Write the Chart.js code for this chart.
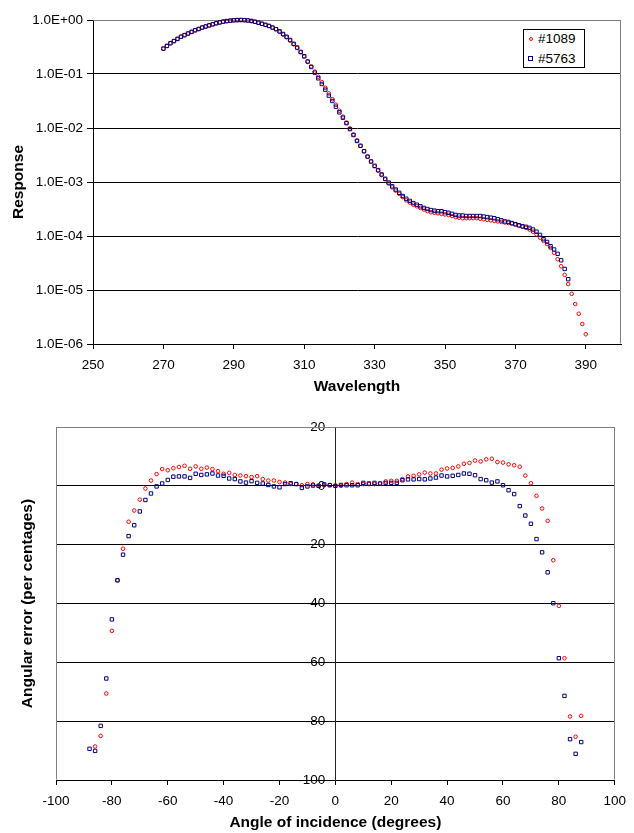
<!DOCTYPE html>
<html>
<head>
<meta charset="utf-8">
<script src="https://cdn.jsdelivr.net/npm/chart.js@4.4.1/dist/chart.umd.min.js"></script>
<style>
  body { margin: 0; background: #fff; width: 634px; height: 833px; position: relative; overflow: hidden;
         font-family: 'Liberation Sans', Arial, sans-serif; }
  #topChart { position: absolute; left: 0; top: 0; }
  #bottomChart { position: absolute; left: 0; top: 400px; }
  .legend { position: absolute; left: 523px; top: 29px; width: 60px; height: 37px;
            border: 1px solid #000; background: #fff; font-size: 13.5px; color: #000; }
  .legend .txt { position: absolute; left: 14px; height: 16px; line-height: 16px; }
  .mk { position: absolute; box-sizing: border-box; }
  .mk.red { width: 4px; height: 4px; border: 1px solid #ff0000; border-radius: 50%; }
  .mk.blue { width: 5px; height: 5px; border: 1px solid #000080; }
</style>
</head>
<body>
<canvas id="topChart" width="634" height="400"></canvas>
<canvas id="bottomChart" width="634" height="433"></canvas>
<div class="legend">
  <span class="mk red" style="left:5px; top:7px;"></span><span class="txt" style="top:1px;">#1089</span>
  <span class="mk blue" style="left:4px; top:26px;"></span><span class="txt" style="top:21px;">#5763</span>
</div>
<script>
// ---- top chart: spectral response (log10 of response) ----
const wavelengths = [
  270,271,272,273,274,275,276,277,278,279,
  280,281,282,283,284,285,286,287,288,289,
  290,291,292,293,294,295,296,297,298,299,
  300,301,302,303,304,305,306,307,308,309,
  310,311,312,313,314,315,316,317,318,319,
  320,321,322,323,324,325,326,327,328,329,
  330,331,332,333,334,335,336,337,338,339,
  340,341,342,343,344,345,346,347,348,349,
  350,351,352,353,354,355,356,357,358,359,
  360,361,362,363,364,365,366,367,368,369,
  370,371,372,373,374,375,376,377,378,379,
  380,381,382,383,384,385,386,387,388,389,
  390
];
const logResp1089 = [
  -0.53,-0.48,-0.43,-0.39,-0.35,-0.31,-0.28,-0.25,-0.22,-0.19,
  -0.167,-0.14,-0.12,-0.10,-0.08,-0.06,-0.045,-0.03,-0.02,-0.012,
  -0.006,-0.002,0,-0.003,-0.008,-0.018,-0.032,-0.05,-0.07,-0.09,
  -0.11,-0.14,-0.17,-0.22,-0.27,-0.32,-0.38,-0.45,-0.52,-0.60,
  -0.68,-0.77,-0.86,-0.955,-1.05,-1.15,-1.255,-1.36,-1.465,-1.57,
  -1.68,-1.79,-1.90,-2.01,-2.12,-2.23,-2.33,-2.43,-2.53,-2.62,
  -2.71,-2.79,-2.87,-2.95,-3.03,-3.10,-3.16,-3.22,-3.28,-3.34,
  -3.38,-3.42,-3.45,-3.48,-3.51,-3.54,-3.56,-3.57,-3.58,-3.59,
  -3.60,-3.61,-3.63,-3.65,-3.66,-3.67,-3.67,-3.67,-3.67,-3.67,
  -3.68,-3.69,-3.70,-3.71,-3.72,-3.73,-3.74,-3.75,-3.76,-3.77,
  -3.79,-3.81,-3.83,-3.85,-3.88,-3.92,-3.97,-4.03,-4.09,-4.15,
  -4.22,-4.31,-4.43,-4.56,-4.72,-4.89,-5.07,-5.26,-5.44,-5.63,
  -5.82
];
const logResp5763 = [
  -0.53,-0.48,-0.43,-0.39,-0.35,-0.31,-0.28,-0.25,-0.22,-0.19,
  -0.167,-0.14,-0.12,-0.10,-0.08,-0.06,-0.045,-0.03,-0.02,-0.012,
  -0.006,-0.002,0,-0.003,-0.008,-0.018,-0.032,-0.05,-0.07,-0.09,
  -0.11,-0.14,-0.17,-0.21,-0.26,-0.31,-0.37,-0.44,-0.51,-0.59,
  -0.67,-0.77,-0.87,-0.975,-1.08,-1.185,-1.29,-1.40,-1.50,-1.605,
  -1.71,-1.81,-1.91,-2.02,-2.13,-2.24,-2.33,-2.43,-2.53,-2.62,
  -2.70,-2.78,-2.86,-2.94,-3.01,-3.08,-3.14,-3.20,-3.26,-3.31,
  -3.35,-3.39,-3.42,-3.45,-3.48,-3.50,-3.52,-3.53,-3.54,-3.54,
  -3.56,-3.57,-3.59,-3.61,-3.62,-3.62,-3.63,-3.63,-3.63,-3.63,
  -3.63,-3.64,-3.65,-3.66,-3.67,-3.69,-3.71,-3.73,-3.74,-3.76,
  -3.78,-3.80,-3.82,-3.83,-3.85,-3.88,-3.92,-3.98,-4.06,-4.11,
  -4.19,-4.25,-4.33,-4.45,-4.61,-4.80
];
const wlTicks = [250, 270, 290, 310, 330, 350, 370, 390];
const respTicks = [1e-6, 1e-5, 1e-4, 1e-3, 1e-2, 1e-1, 1];
const respTickLabels = ['1.0E-06', '1.0E-05', '1.0E-04', '1.0E-03', '1.0E-02', '1.0E-01', '1.0E+00'];

// ---- bottom chart: angular error ----
const angles = [
  -88,-86,-84,-82,-80,-78,-76,-74,-72,-70,-68,-66,-64,-62,-60,-58,-56,-54,-52,-50,
  -48,-46,-44,-42,-40,-38,-36,-34,-32,-30,-28,-26,-24,-22,-20,-18,-16,-14,-12,-10,
  -8,-6,-4,-2,0,2,4,6,8,10,12,14,16,18,20,22,24,26,28,30,
  32,34,36,38,40,42,44,46,48,50,52,54,56,58,60,62,64,66,68,70,
  72,74,76,78,80,82,84,86,88
];
const err1089 = [
  null,-88.6,-85.0,-70.6,-49.3,-32.1,-21.4,-12.2,-8.4,-4.7,-0.9,1.8,4.0,5.7,5.3,6.0,6.4,6.8,5.8,6.6,
  5.8,6.2,5.7,5.0,4.1,4.4,3.7,3.5,3.3,3.0,3.3,2.3,1.8,1.8,1.3,1.1,0.6,0.6,0.2,0.6,
  0.5,0,0.2,0.3,0,0,0.6,1.1,0.6,0.6,0.6,0.6,0.8,1.5,1.7,1.7,2.3,3.2,3.4,3.9,
  4.5,4.2,4.2,5.5,5.9,6.1,6.6,7.5,7.8,8.6,8.3,9.0,9.2,8.1,7.9,7.3,7.0,6.5,3.5,0.9,
  -3.4,-7.7,-11.9,-25.3,-40.8,-58.6,-78.4,-85.3,-78.2
];
const err5763 = [
  -89.4,-90.1,-81.6,-65.5,-45.4,-32.1,-23.4,-17.1,-13.4,-8.7,-4.8,-2.6,-0.2,0.8,2.0,3.1,3.2,3.2,2.7,4.1,
  3.7,3.9,4.2,3.5,3.4,2.5,2.3,1.5,1.1,1.6,1.0,0.8,0.3,-0.2,-0.5,0.6,0.9,0.6,-0.7,-0.2,
  0.1,0,0.5,0.2,0,0.3,0.2,0.2,0.2,1.0,0.8,1.0,0.8,1.0,1.0,1.0,1.9,2.2,2.2,2.3,
  2.2,2.5,2.8,3.5,3.2,3.4,3.7,4.2,4.1,3.6,2.3,1.9,1.1,1.5,0.2,-1.5,-2.8,-6.9,-10.1,-12.9,
  -18.1,-22.6,-29.4,-39.9,-58.6,-71.4,-86.1,-91.1,-87.1
];

const FONT = "'Liberation Sans', Arial, sans-serif";
Chart.defaults.font.family = FONT;
Chart.defaults.font.size = 13.5;
Chart.defaults.color = '#000';

// grey plot-area frame on the sides that carry no axis
const plotFrame = {
  id: 'plotFrame',
  beforeDatasetsDraw(chart, args, opts) {
    const { ctx, chartArea: a } = chart;
    const l = Math.round(a.left) + 0.5, r = Math.round(a.right) - 0.5;
    const t = Math.round(a.top) + 0.5, b = Math.round(a.bottom) - 0.5;
    ctx.save();
    ctx.strokeStyle = '#808080';
    ctx.lineWidth = 1;
    ctx.beginPath();
    if (opts.sides.includes('top')) { ctx.moveTo(l, t); ctx.lineTo(r, t); }
    if (opts.sides.includes('right')) { ctx.moveTo(r, t); ctx.lineTo(r, b); }
    if (opts.sides.includes('left')) { ctx.moveTo(l, t); ctx.lineTo(l, b); }
    ctx.stroke();
    ctx.restore();
  }
};

// y axis that crosses at x = 0: put its labels right-aligned left of the tick marks
const crossLabels = {
  id: 'crossLabels',
  beforeDraw(chart) {
    const s = chart.scales.y;
    const edge = chart.scales.x.getPixelForValue(0) - s.options.grid.tickLength - s.options.ticks.padding;
    s.getLabelItems(chart.chartArea).forEach(it => {
      it.options.textAlign = 'right';
      it.options.translation[0] = edge;
    });
  }
};

const redMarks = { pointStyle: 'circle', pointRadius: 1.8, borderColor: '#ff0000', backgroundColor: 'rgba(0,0,0,0)', borderWidth: 1 };
const blueMarks = { pointStyle: 'rect', pointRadius: 2.4, borderColor: '#000080', backgroundColor: 'rgba(0,0,0,0)', borderWidth: 1 };

function pairs(xs, ys, fn) {
  return ys.map((v, i) => ({ x: xs[i], y: v === null ? null : fn(v) }));
}

new Chart(document.getElementById('topChart'), {
  type: 'scatter',
  data: {
    datasets: [
      Object.assign({ label: '#1089', data: pairs(wavelengths, logResp1089, e => Math.pow(10, e)), order: 1, clip: false }, redMarks),
      Object.assign({ label: '#5763', data: pairs(wavelengths, logResp5763, e => Math.pow(10, e)), order: 0, clip: false }, blueMarks)
    ]
  },
  options: {
    responsive: false,
    animation: false,
    events: [],
    layout: { padding: { top: 20, right: 13, left: 0, bottom: 0 } },
    plugins: { legend: { display: false }, tooltip: { enabled: false }, plotFrame: { sides: ['top', 'right'] } },
    scales: {
      x: {
        type: 'linear', min: 250, max: 400,
        afterBuildTicks: s => { s.ticks = wlTicks.map(v => ({ value: v })); },
        afterFit: s => { s.height = 56; },
        ticks: { padding: 8, maxRotation: 0 },
        grid: { drawOnChartArea: false, tickLength: 5, color: '#000' },
        border: { color: '#000' },
        title: { display: true, text: 'Wavelength', font: { size: 15.5, weight: 'bold' }, padding: { top: 0, bottom: 4 } }
      },
      y: {
        type: 'logarithmic', min: 1e-6, max: 1,
        afterBuildTicks: s => { s.ticks = respTicks.map(v => ({ value: v })); },
        afterFit: s => { s.width = 93; },
        ticks: { padding: 4, callback: (v, i) => respTickLabels[i] },
        grid: { tickLength: 6, color: c => (c.tick && c.tick.value === 1 ? '#808080' : '#000'), tickColor: '#000' },
        border: { color: '#000' },
        title: { display: true, text: 'Response', font: { size: 15.5, weight: 'bold' }, padding: { top: 9, bottom: 0 } }
      }
    }
  },
  plugins: [plotFrame]
});

new Chart(document.getElementById('bottomChart'), {
  type: 'scatter',
  data: {
    datasets: [
      Object.assign({ label: '#1089', data: pairs(angles, err1089, v => v), order: 1, clip: false }, redMarks),
      Object.assign({ label: '#5763', data: pairs(angles, err5763, v => v), order: 0, clip: false }, blueMarks)
    ]
  },
  options: {
    responsive: false,
    animation: false,
    events: [],
    layout: { padding: { top: 27, right: 12, left: 0, bottom: 0 } },
    plugins: { legend: { display: false }, tooltip: { enabled: false }, plotFrame: { sides: ['top', 'right', 'left'] } },
    scales: {
      x: {
        type: 'linear', min: -100, max: 100,
        afterFit: s => { s.height = 53; },
        ticks: { stepSize: 20, padding: 8, maxRotation: 0 },
        grid: { drawOnChartArea: false, tickLength: 5, color: '#000' },
        border: { color: '#000' },
        title: { display: true, text: 'Angle of incidence (degrees)', font: { size: 15.5, weight: 'bold' }, padding: { top: 0, bottom: 1 } }
      },
      y: {
        type: 'linear', min: -100, max: 20, position: { x: 0 },
        ticks: { stepSize: 20, padding: 4 },
        grid: { tickLength: 6, color: c => (c.tick && c.tick.value === 20 ? '#808080' : '#000'), tickColor: '#000' },
        border: { color: '#222' }
      },
      yTitle: {
        type: 'linear', position: 'left', display: true,
        afterFit: s => { s.width = 56; },
        ticks: { display: false },
        grid: { display: false },
        border: { display: false },
        title: { display: true, text: 'Angular error (per centages)', font: { size: 15.5, weight: 'bold' }, padding: { top: 18, bottom: 0 } }
      }
    }
  },
  plugins: [plotFrame, crossLabels]
});
</script>
</body>
</html>
